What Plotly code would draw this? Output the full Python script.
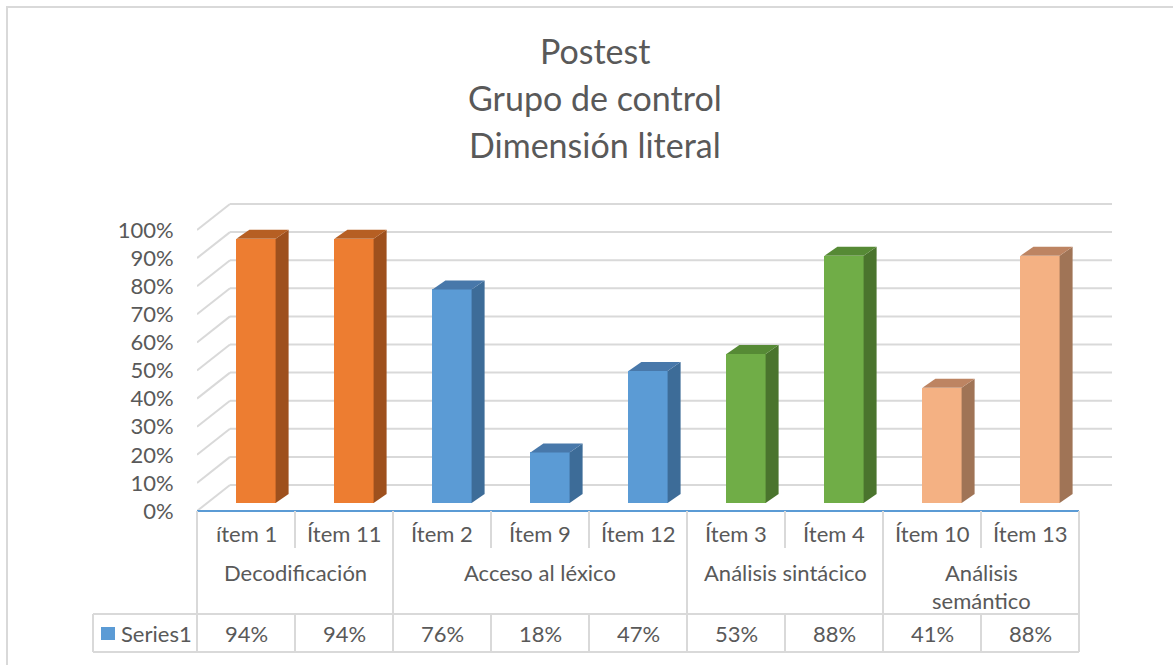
import plotly.graph_objects as go

# ---- data ----
items = ["ítem 1", "Ítem 11", "Ítem 2", "Ítem 9", "Ítem 12", "Ítem 3", "Ítem 4", "Ítem 10", "Ítem 13"]
values = [94, 94, 76, 18, 47, 53, 88, 41, 88]
groups = ["Decodificación", "Acceso al léxico", "Análisis sintácico", "Análisis\nsemántico"]
group_sizes = [2, 3, 2, 2]
series_name = "Series1"
y_ticks = list(range(0, 101, 10))
title_lines = ["Postest", "Grupo de control", "Dimensión literal"]

# ---- styling ----
FONT = "Lato"
TXT = "#595959"
GRID = "#D9D9D9"
AXIS_BLUE = "#5B9BD5"
front_cols = ["#ED7D31", "#5B9BD5", "#70AD47", "#F4B183"]
side_cols = ["#9E501D", "#3D6C98", "#4A742D", "#A07456"]
top_cols = ["#B65F23", "#4878AA", "#568A35", "#BD8462"]
SMALL = 22
TITLE = 34

W, H = 1173, 665
L, R, T, B = 197, 1113, 200, 511      # plot area in pixels
U = 98.0                              # pixels per category
K = 2.81                              # pixels per percent
DX, DY = 33 / U, 26 / K               # depth of the box (data units)
BAR_SHIFT = 10 / U                    # bar front face offset from category centre
BAR_BASE = 8 / K                      # bar front face lifted into the floor
BAR_W = 0.4
SDX, SDY = 13 / U, 9 / K              # bar thickness in depth

x_lo = -0.5
x_hi = -0.5 + (R - L) / U
y_hi = (B - T) / K


def px_x(px):
    return (px - L) / (R - L)


def px_y(py):
    return (B - py) / (B - T)


group_of = []
for g, n in enumerate(group_sizes):
    group_of += [g] * n

fig = go.Figure()

# front faces
fig.add_trace(go.Bar(
    x=[i + BAR_SHIFT for i in range(len(values))],
    y=values,
    base=BAR_BASE,
    width=BAR_W,
    marker=dict(color=[front_cols[g] for g in group_of], line=dict(width=0)),
    hoverinfo="skip",
    showlegend=False,
))

# side and top faces
for i, v in enumerate(values):
    g = group_of[i]
    xl = i + BAR_SHIFT - BAR_W / 2
    xr = i + BAR_SHIFT + BAR_W / 2
    b0 = BAR_BASE
    t0 = BAR_BASE + v
    fig.add_trace(go.Scatter(
        x=[xr, xr + SDX, xr + SDX, xr, xr],
        y=[b0, b0 + SDY, t0 + SDY, t0, b0],
        fill="toself", fillcolor=side_cols[g], mode="lines",
        line=dict(width=0, color=side_cols[g]), hoverinfo="skip", showlegend=False,
    ))
    fig.add_trace(go.Scatter(
        x=[xl, xl + SDX, xr + SDX, xr, xl],
        y=[t0, t0 + SDY, t0 + SDY, t0, t0],
        fill="toself", fillcolor=top_cols[g], mode="lines",
        line=dict(width=0, color=top_cols[g]), hoverinfo="skip", showlegend=False,
    ))

shapes = []
# walls: left side diagonals and back gridlines
for v in y_ticks:
    shapes.append(dict(type="line", xref="x", yref="y", layer="below",
                       x0=-0.5, y0=v, x1=-0.5 + DX, y1=v + DY,
                       line=dict(color=GRID, width=2)))
    shapes.append(dict(type="line", xref="x", yref="y", layer="below",
                       x0=-0.5 + DX, y0=v + DY, x1=len(values) - 0.5 + DX, y1=v + DY,
                       line=dict(color=GRID, width=2)))

# category axis line
shapes.append(dict(type="line", xref="x", yref="paper",
                   x0=-0.5, x1=len(values) - 0.5, y0=0, y1=0,
                   line=dict(color=AXIS_BLUE, width=2)))

# data table
ROW1_B, ROW2_B, ROW3_B = 548, 614, 652
LEG_L = 93
group_edges = [0]
for n in group_sizes:
    group_edges.append(group_edges[-1] + n)

for j in range(len(values) + 1):
    xpx = L + j * U
    if j in group_edges:
        segs = [(B, ROW3_B)]
    else:
        segs = [(B, ROW1_B), (ROW2_B, ROW3_B)]
    for a, b in segs:
        shapes.append(dict(type="line", xref="paper", yref="paper",
                           x0=px_x(xpx), x1=px_x(xpx), y0=px_y(a), y1=px_y(b),
                           line=dict(color=GRID, width=2)))
for ypx in (ROW2_B, ROW3_B):
    shapes.append(dict(type="line", xref="paper", yref="paper",
                       x0=px_x(LEG_L), x1=px_x(L + len(values) * U), y0=px_y(ypx), y1=px_y(ypx),
                       line=dict(color=GRID, width=2)))
shapes.append(dict(type="line", xref="paper", yref="paper",
                   x0=px_x(LEG_L), x1=px_x(LEG_L), y0=px_y(ROW2_B), y1=px_y(ROW3_B),
                   line=dict(color=GRID, width=2)))
# legend key
shapes.append(dict(type="rect", xref="paper", yref="paper",
                   x0=px_x(101), x1=px_x(115), y0=px_y(627), y1=px_y(640),
                   fillcolor=AXIS_BLUE, line=dict(width=0)))
# chart border
shapes.append(dict(type="rect", xref="paper", yref="paper",
                   x0=px_x(7), x1=px_x(1190), y0=px_y(7), y1=px_y(690),
                   line=dict(color=GRID, width=2)))

annotations = []
for k, line in enumerate(title_lines):
    annotations.append(dict(text=line, xref="paper", yref="paper", x=px_x(595), y=px_y(51 + 46.5 * k),
                            xanchor="center", yanchor="middle", showarrow=False,
                            font=dict(family=FONT, size=TITLE, color=TXT)))
for i, (it, v) in enumerate(zip(items, values)):
    cx = px_x(L + (i + 0.5) * U)
    annotations.append(dict(text=it, xref="paper", yref="paper", x=cx, y=px_y(533),
                            xanchor="center", yanchor="middle", showarrow=False,
                            font=dict(family=FONT, size=SMALL, color=TXT)))
    annotations.append(dict(text=f"{v}%", xref="paper", yref="paper", x=cx, y=px_y(633),
                            xanchor="center", yanchor="middle", showarrow=False,
                            font=dict(family=FONT, size=SMALL, color=TXT)))
for g, name in enumerate(groups):
    cx = px_x(L + (group_edges[g] + group_edges[g + 1]) / 2 * U)
    for k, part in enumerate(name.split("\n")):
        annotations.append(dict(text=part, xref="paper", yref="paper", x=cx, y=px_y(572 + 28 * k),
                                xanchor="center", yanchor="middle", showarrow=False,
                                font=dict(family=FONT, size=SMALL, color=TXT)))
annotations.append(dict(text=series_name, xref="paper", yref="paper", x=px_x(119), y=px_y(633),
                        xanchor="left", yanchor="middle", showarrow=False,
                        font=dict(family=FONT, size=SMALL, color=TXT)))

fig.update_layout(
    width=W, height=H,
    margin=dict(l=L, r=W - R, t=T, b=H - B, pad=0),
    paper_bgcolor="white", plot_bgcolor="white",
    showlegend=False,
    shapes=shapes,
    annotations=annotations,
    xaxis=dict(range=[x_lo, x_hi], visible=False, fixedrange=True),
    yaxis=dict(range=[0, y_hi], tickvals=y_ticks, ticktext=[f"{v}%" for v in y_ticks],
               showgrid=False, zeroline=False, showline=False,
               ticks="outside", ticklen=18, tickcolor="rgba(0,0,0,0)",
               tickfont=dict(family=FONT, size=SMALL, color=TXT), fixedrange=True),
    bargap=0,
)

fig.write_html("out.html")
